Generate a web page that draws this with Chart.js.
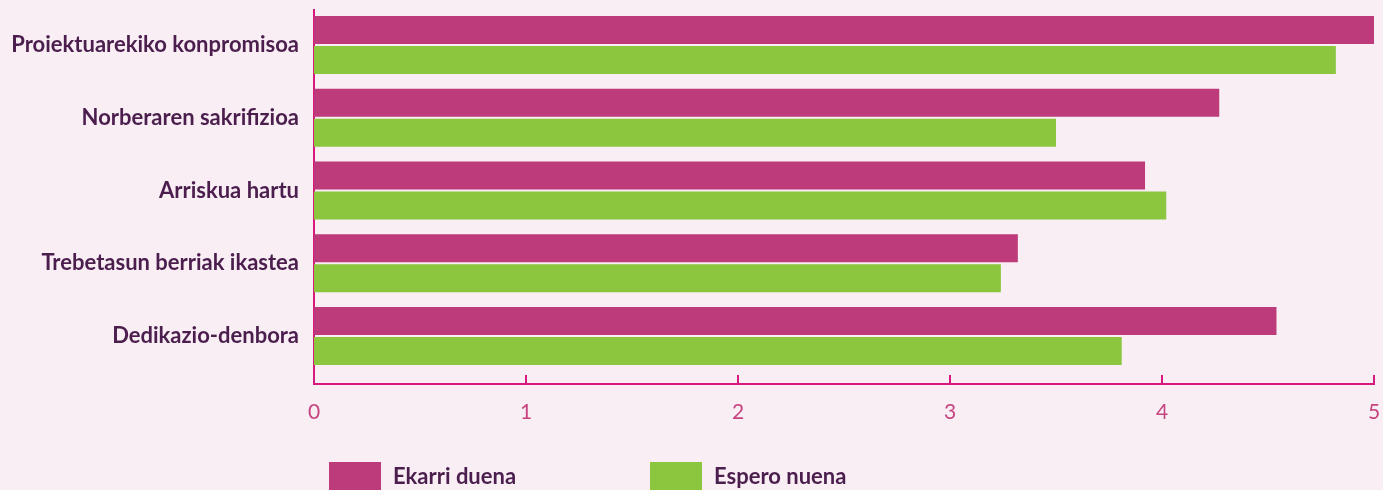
<!DOCTYPE html>
<html>
<head>
<meta charset="utf-8">
<title>Ekarri duena / Espero nuena</title>
<script src="https://cdn.jsdelivr.net/npm/chart.js@4.4.1/dist/chart.umd.min.js"></script>
<style>
    body { margin: 0; background: #f8eef4; }
    #wrap { position: relative; width: 1383px; height: 490px; overflow: hidden; }
    .legend-box { position: absolute; top: 462px; width: 52px; height: 30px; }
    .legend-text { position: absolute; top: 462px; line-height: 28px; font-family: Lato, sans-serif; font-weight: bold; font-size: 22px; color: #4b1e4e; }
</style>
</head>
<body>
<div id="wrap">
    <canvas id="chart"></canvas>
    <div class="legend-box" style="left:329px;background:#bd3b7a"></div>
    <div class="legend-text" style="left:393px">Ekarri duena</div>
    <div class="legend-box" style="left:650px;background:#8cc63f"></div>
    <div class="legend-text" style="left:714px">Espero nuena</div>
</div>
<script>
// Categories and values
const categories = [
    'Proiektuarekiko konpromisoa',
    'Norberaren sakrifizioa',
    'Arriskua hartu',
    'Trebetasun berriak ikastea',
    'Dedikazio-denbora'
];
const ekarriDuena = [5.0, 4.27, 3.92, 3.32, 4.54];
const esperoNuena = [4.82, 3.50, 4.02, 3.24, 3.81];
const xTicks = [0, 1, 2, 3, 4, 5];

const axisColor = '#d6197a';

// Small tick marks pointing up into the plot from the x axis
const innerTicks = {
    id: 'innerTicks',
    afterDatasetsDraw(chart) {
        const x = chart.scales.x;
        const ctx = chart.ctx;
        ctx.save();
        ctx.strokeStyle = axisColor;
        ctx.lineWidth = 2;
        xTicks.forEach(v => {
            const px = Math.round(x.getPixelForValue(v));
            ctx.beginPath();
            ctx.moveTo(px, x.top);
            ctx.lineTo(px, x.top - 9);
            ctx.stroke();
        });
        ctx.restore();
    }
};

new Chart(document.getElementById('chart'), {
    type: 'bar',
    data: {
        labels: categories,
        datasets: [
            { label: 'Ekarri duena', data: ekarriDuena, backgroundColor: '#bd3b7a' },
            { label: 'Espero nuena', data: esperoNuena, backgroundColor: '#8cc63f' }
        ]
    },
    options: {
        indexAxis: 'y',
        responsive: true,
        maintainAspectRatio: false,
        animation: false,
        categoryPercentage: 0.825,
        barPercentage: 0.93,
        layout: { padding: { left: 0, top: 10, right: 9, bottom: 66 } },
        plugins: {
            legend: { display: false },
            tooltip: { enabled: false }
        },
        scales: {
            x: {
                min: 0,
                max: 5,
                afterBuildTicks: scale => { scale.ticks = xTicks.map(v => ({ value: v })); },
                afterFit: scale => {
                    scale.height = 40;
                    scale.paddingLeft = 0;
                    scale.paddingRight = 0;
                },
                grid: { display: false, drawTicks: false },
                border: { display: true, color: axisColor, width: 2 },
                ticks: {
                    padding: 16,
                    color: '#c64480',
                    font: { family: 'Lato', size: 21, weight: 'normal' }
                }
            },
            y: {
                afterFit: scale => {
                    scale.width = 314;
                    scale.paddingTop = 0;
                    scale.paddingBottom = 0;
                },
                // bars sit a little higher, more room above the x axis
                afterUpdate: scale => {
                    scale._startValue = -0.48;
                    scale._valueRange = 5.14;
                },
                grid: { display: false, drawTicks: false },
                border: { display: true, color: axisColor, width: 2 },
                ticks: {
                    padding: 15,
                    color: '#4b1e4e',
                    font: { family: 'Lato', size: 22, weight: 'bold' }
                }
            }
        }
    },
    plugins: [innerTicks]
});
</script>
</body>
</html>
